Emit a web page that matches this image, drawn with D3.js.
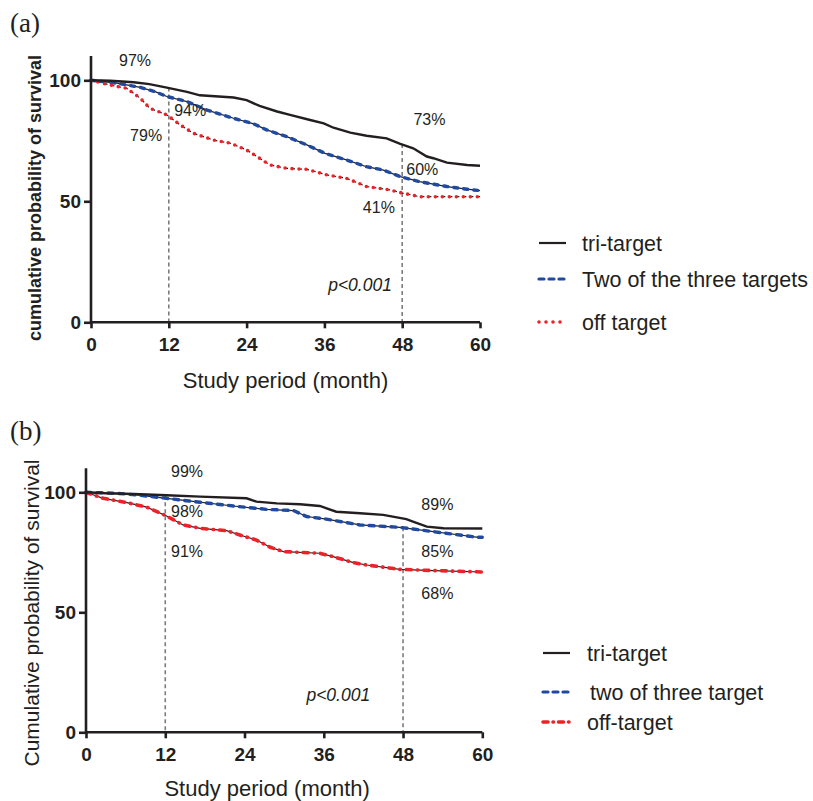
<!DOCTYPE html>
<html lang="en">
<head>
<meta charset="UTF-8">
<title>Survival curves</title>
<style>
  body { margin: 0; background: #fff; }
  text { font-family: "Liberation Sans", Arial, sans-serif; fill: #231f20; }
</style>
</head>
<body>
<script src="https://d3js.org/d3.v7.min.js"></script>
<div id="chart"></div>
<script>
// ---- data: [month, survival %] ----
var triA = [[0,100],[3,99.8],[6.6,99.2],[9,98.4],[11.7,97],[14.8,95.2],[16.8,93.8],[22,92.9],[24,91.8],[26,89.4],[28.7,87.1],[30.7,85.7],[33.8,83.6],[35.9,82.2],[37.4,80.4],[40,78.4],[42.5,77.1],[45.6,76],[47.7,73.7],[49.7,71.9],[51.8,68.5],[52.8,67.8],[54.9,66],[58,65],[60,64.7]];
var twoA = [[0,100],[4,98.8],[7.6,97.1],[10,95.2],[11.7,93.3],[14.8,91.2],[17.9,87.7],[22,84.3],[25.1,82],[27.1,79.5],[30.2,76.7],[33.3,73.3],[36.1,69.8],[39.4,67.1],[42.5,64.3],[45.1,62.9],[47.7,60.2],[50.7,58.1],[54.9,56.1],[58,55],[60,54.4]];
var offA = [[0,100],[3,98],[5.5,96.7],[7.6,92.6],[9.1,88.4],[11.7,85.7],[13.8,81.5],[15.8,78.1],[18.9,75.3],[21.5,74],[24,71.2],[25.6,68.5],[27.6,65],[30.2,63.6],[33.3,63.2],[36.4,60.9],[39.4,59.5],[42.5,56.1],[46.1,54.7],[48.2,53.3],[50.7,51.9],[60,51.9]];

var triB = [[0,100],[3,99.6],[7.2,99.3],[12.2,98.8],[17.3,98.2],[24.3,97.5],[25.8,96.1],[28.9,95.4],[32.4,95],[35.4,94.3],[37.9,91.9],[41.5,91.3],[45,90.6],[48.5,88.8],[49.5,87.8],[51.6,85.7],[54.1,85],[60,84.9]];
var twoB = [[0,100],[4.6,99.6],[8,98.8],[12.2,97.5],[15.2,96.5],[22.3,94.3],[27.3,92.9],[31.4,92.4],[33.4,89.9],[36.4,88.8],[41.5,86.4],[47.5,85.4],[52.6,83.6],[56.6,82.2],[59.1,81.3],[60,81.3]];
var offB = [[0,100],[2.6,97.5],[6.2,95.7],[9.2,93.8],[12.2,90.1],[14.7,86.4],[17.3,85],[21.3,84],[23.3,82.2],[25.8,80.1],[27.9,77.1],[29.9,75.3],[35.4,74.6],[37.4,73.2],[40.5,70.7],[42.5,69.7],[47.5,67.9],[52.6,67.4],[60,66.8]];

var xTicks = [0, 12, 24, 36, 48, 60];
var yTicks = [0, 50, 100];
var refMonths = [12, 48];

// [text, month, survival] anchor of each note
var notesA = [["97%",6.8,108.4],["94%",15.3,87.7],["79%",8.5,77.4],["73%",52.2,84],["60%",51.1,63.3],["41%",44.4,47.6],["p<0.001",41.5,15.3]];
var notesB = [["99%",15.3,108.9],["98%",15.3,92.2],["91%",15.3,75.5],["89%",53.2,95.1],["85%",53.2,75.5],["68%",53.2,58],["p<0.001",38.2,15.5]];

var legendA = ["tri-target", "Two of the three targets", "off target"];
var legendB = ["tri-target", "two of three target", "off-target"];

var blue = "#1f4aa0", red = "#ee2028", ink = "#231f20";

var svg = d3.select("#chart").append("svg")
  .attr("width", 813).attr("height", 801);

function panel(cfg) {
  var x = d3.scaleLinear().domain([0, 60]).range([cfg.x0, cfg.x1]);
  var y = d3.scaleLinear().domain([0, 110]).range([cfg.yBottom, cfg.yBottom - 110 * cfg.k]);
  var g = svg.append("g");

  // panel letter
  g.append("text").attr("x", 10).attr("y", cfg.letterY)
    .style("font-family", "'Liberation Serif', 'Times New Roman', serif")
    .style("font-size", "27px").text(cfg.letter);

  // reference verticals
  g.selectAll(".ref").data(refMonths).enter().append("line")
    .attr("x1", function(d) { return x(d); }).attr("x2", function(d) { return x(d); })
    .attr("y1", function(d, i) { return y(cfg.refTop[i]); }).attr("y2", y(0))
    .attr("stroke", "#7d7d7d").attr("stroke-width", 1.6).attr("stroke-dasharray", "4,3");

  var line = d3.line().x(function(d) { return x(d[0]); }).y(function(d) { return y(d[1]); });

  // thin black traces under the coloured series
  g.append("path").attr("d", line(cfg.two)).attr("fill", "none")
    .attr("stroke", ink).attr("stroke-width", 1.2);
  g.append("path").attr("d", line(cfg.off)).attr("fill", "none")
    .attr("stroke", ink).attr("stroke-width", 1.2).attr("stroke-dasharray", cfg.offUnder);
  g.append("path").attr("d", line(cfg.two)).attr("fill", "none")
    .attr("stroke", blue).attr("stroke-width", 3.4).attr("stroke-linecap", "round")
    .attr("stroke-dasharray", cfg.twoDash);
  g.append("path").attr("d", line(cfg.off)).attr("fill", "none")
    .attr("stroke", red).attr("stroke-width", cfg.offWidth).attr("stroke-linecap", "round")
    .attr("stroke-dasharray", cfg.offDash);
  g.append("path").attr("d", line(cfg.tri)).attr("fill", "none")
    .attr("stroke", ink).attr("stroke-width", 2.4);

  // axes
  var xa = g.append("g").attr("transform", "translate(0," + y(0) + ")")
    .call(d3.axisBottom(x).tickValues(xTicks).tickSize(6).tickPadding(9));
  var ya = g.append("g").attr("transform", "translate(" + x(0) + ",0)")
    .call(d3.axisLeft(y).tickValues(yTicks).tickSize(7).tickPadding(3));
  [xa, ya].forEach(function(a) {
    a.select(".domain").attr("stroke", ink).attr("stroke-width", 2.6);
    a.selectAll(".tick line").attr("stroke", ink).attr("stroke-width", 2.6);
    a.selectAll(".tick text").style("font-size", "19px").style("font-weight", "bold")
      .style("font-family", "'Liberation Sans', Arial, sans-serif").attr("fill", ink);
  });
  xa.select(".domain").attr("d", "M" + x(0) + ",0H" + x(60));
  ya.select(".domain").attr("d", "M0," + y(110) + "V" + y(0));

  // titles
  g.append("text").attr("x", (x(0) + x(60)) / 2 + cfg.xTitleDx).attr("y", cfg.xTitleY)
    .attr("text-anchor", "middle").style("font-size", "22px").text("Study period (month)");
  g.append("text")
    .attr("transform", "translate(" + cfg.yTitleX + "," + cfg.yTitleMid + ") rotate(-90)")
    .attr("text-anchor", "middle").style("font-size", cfg.yTitleSize)
    .style("font-weight", cfg.yTitleWeight).text(cfg.yTitle);

  // annotations
  g.selectAll(".note").data(cfg.notes).enter().append("text")
    .attr("x", function(d) { return x(d[1]); }).attr("y", function(d) { return y(d[2]); })
    .attr("text-anchor", "middle").attr("dy", "0.35em")
    .style("font-size", function(d) { return d[0].charAt(0) === "p" ? "17.5px" : "16px"; })
    .style("font-style", function(d) { return d[0].charAt(0) === "p" ? "italic" : "normal"; })
    .text(function(d) { return d[0]; });

  // legend
  var lg = g.append("g");
  var styles = [
    {c: ink, w: 2.2, dash: null, cap: "butt"},
    {c: blue, w: 3.2, dash: cfg.legTwoDash, cap: "round"},
    {c: red, w: cfg.offWidth, dash: cfg.legOffDash, cap: "round"}
  ];
  cfg.legend.forEach(function(name, i) {
    var ly = cfg.legY[i];
    lg.append("line").attr("x1", cfg.legX).attr("x2", cfg.legX + 27)
      .attr("y1", ly).attr("y2", ly)
      .attr("stroke", styles[i].c).attr("stroke-width", styles[i].w)
      .attr("stroke-linecap", styles[i].cap)
      .attr("stroke-dasharray", styles[i].dash);
    lg.append("text").attr("x", cfg.legTextX[i]).attr("y", ly).attr("dy", "0.35em")
      .style("font-size", "21.5px").text(name);
  });
}

panel({
  letter: "(a)", letterY: 32,
  x0: 91, x1: 480, yBottom: 322.3, k: 2.42,
  tri: triA, two: twoA, off: offA,
  twoDash: "4,6", offDash: "0,7", offWidth: 3.6, offUnder: "3,4",
  refTop: [97, 73.7],
  xTitleDx: 0, xTitleY: 388,
  yTitle: "cumulative probability of survival", yTitleX: 41, yTitleMid: 198,
  yTitleSize: "18px", yTitleWeight: "bold",
  notes: notesA,
  legend: legendA, legX: 539, legY: [243, 279, 322], legTextX: [582, 582, 582],
  legTwoDash: "5,5", legOffDash: "0,7"
});

panel({
  letter: "(b)", letterY: 440,
  x0: 86, x1: 482.3, yBottom: 732.3, k: 2.4,
  tri: triB, two: twoB, off: offB,
  twoDash: "5,6", offDash: "5,6,0.5,6", offWidth: 3.6, offUnder: null,
  refTop: [98.8, 85.4],
  xTitleDx: -17, xTitleY: 796,
  yTitle: "Cumulative probability of survival", yTitleX: 39, yTitleMid: 613,
  yTitleSize: "21px", yTitleWeight: "normal",
  notes: notesB,
  legend: legendB, legX: 543, legY: [653, 692, 722], legTextX: [587, 590, 587],
  legTwoDash: "5,5", legOffDash: "5,5,0.5,5"
});
</script>
</body>
</html>
